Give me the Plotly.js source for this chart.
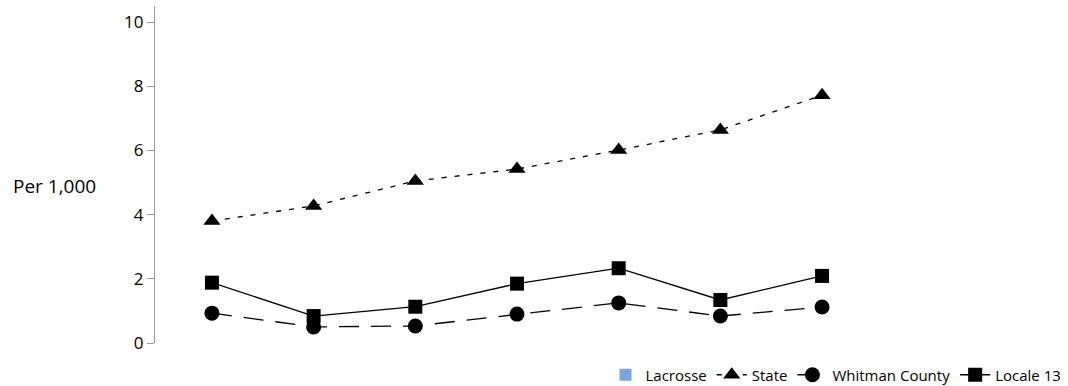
<!DOCTYPE html>
<html><head><meta charset="utf-8">
<script src="https://cdn.plot.ly/plotly-3.0.1.min.js"></script>
<style>html,body{margin:0;padding:0;background:#fff}#chart{width:1068px;height:386px}</style>
</head><body><div id="chart"></div>
<script>
const categories = ["1","2","3","4","5","6","7"];
const lacrosse = [null,null,null,null,null,null,null];
const state = [3.80,4.27,5.05,5.42,6.01,6.64,7.72];
const whitman = [0.93,0.50,0.53,0.90,1.25,0.84,1.12];
const locale13 = [1.88,0.84,1.13,1.85,2.33,1.34,2.09];
const yTicks = [0,2,4,6,8,10];

const font = "'Open Sans', 'Noto Sans', sans-serif";
const traces = [
  {type:'bar', name:'Lacrosse', x:categories, y:lacrosse, marker:{color:'#7ba5d8'}},
  {type:'scatter', mode:'lines+markers', name:'State', x:categories, y:state,
   line:{color:'#000', width:1.3, dash:'5px,8px'}, marker:{symbol:'triangle-up', size:15, color:'#000'}},
  {type:'scatter', mode:'lines+markers', name:'Whitman County', x:categories, y:whitman,
   line:{color:'#000', width:1.3, dash:'20px,12px'}, marker:{symbol:'circle', size:15, color:'#000'}},
  {type:'scatter', mode:'lines+markers', name:'Locale 13', x:categories, y:locale13,
   line:{color:'#000', width:1.3}, marker:{symbol:'square', size:14, color:'#000'}}
];
const layout = {
  width:1068, height:386,
  margin:{l:155, r:189, t:6, b:43, autoexpand:false},
  paper_bgcolor:'#fff', plot_bgcolor:'#fff',
  showlegend:true,
  font:{family:font, color:'#000', size:17},
  xaxis:{type:'category', range:[-0.56,6.56], showticklabels:false, showline:false, showgrid:false, zeroline:false, ticks:''},
  yaxis:{range:[0,10.5], tickvals:yTicks, ticktext:yTicks.map(String), showline:true, linecolor:'#999', linewidth:1.2,
         ticks:'outside', ticklen:7, tickcolor:'#999', showgrid:false, zeroline:false, tickfont:{size:17, family:font}},
  legend:{orientation:'h', x:1.259, xanchor:'right', y:-0.095, yanchor:'middle', font:{size:15, family:font}, traceorder:'normal'},
  annotations:[{text:'Per 1,000', xref:'paper', yref:'paper', x:-0.139, xanchor:'center', y:(343-186)/337, yanchor:'middle', showarrow:false, font:{size:19, family:font}}]
};
Plotly.newPlot('chart', traces, layout, {displayModeBar:false, staticPlot:true});
</script></body></html>
